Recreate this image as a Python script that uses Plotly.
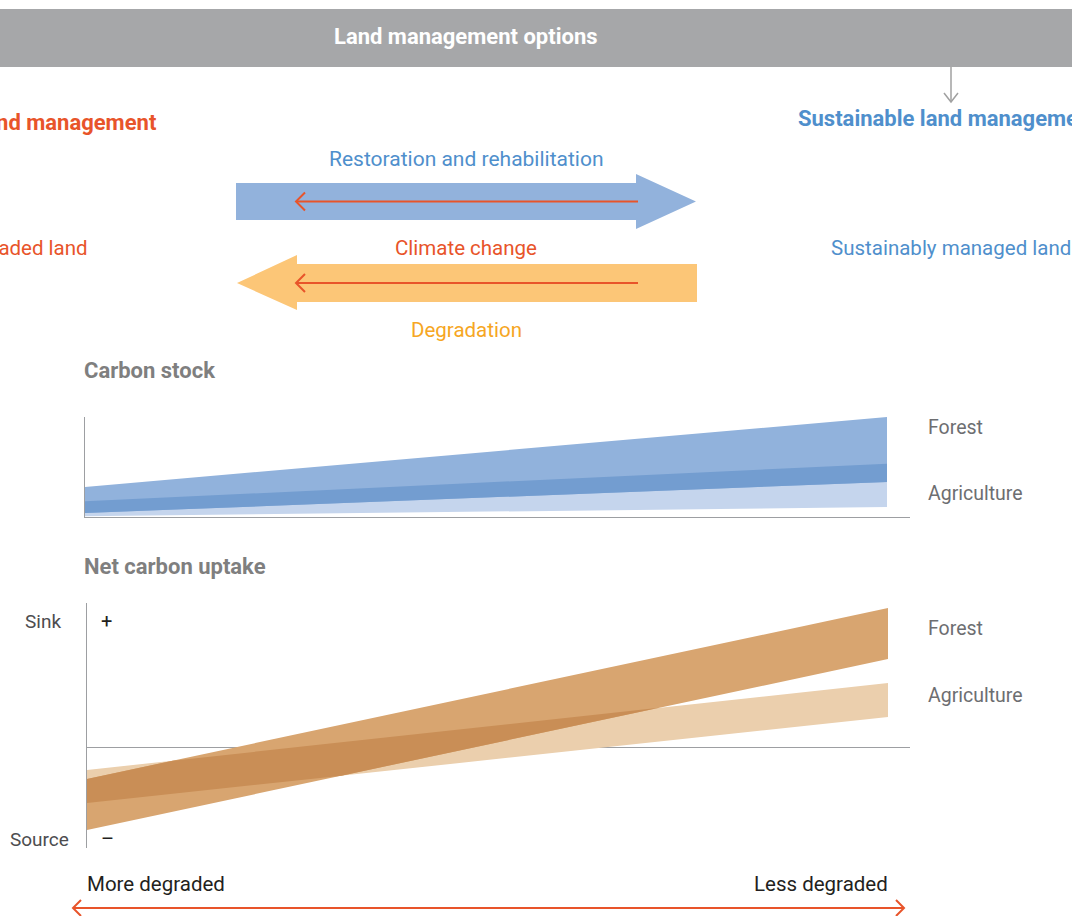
import numpy as np
import plotly.graph_objects as go

W, H = 1072, 916

# ---------------- data ----------------
x_pos = [0, 1]  # 0 = more degraded, 1 = less degraded
x_labels = ["More degraded", "Less degraded"]

# Carbon stock (arbitrary units, 0 = axis)
stock_forest_top = [30.0, 100.0]
stock_forest_bottom = [4.0, 35.0]
stock_agri_top = [15.7, 53.3]
stock_agri_bottom = [0.7, 10.0]

# Net carbon uptake (arbitrary units, 0 = neutral, + sink, - source)
uptake_forest_top = [-3.15, 13.95]
uptake_forest_bottom = [-8.25, 8.85]
uptake_agri_top = [-2.25, 6.45]
uptake_agri_bottom = [-5.55, 3.05]

series_labels = ["Forest", "Agriculture"]

# ---------------- helpers ----------------
def px(x):
    return x / W

def py(y):
    return 1 - y / H

FONT = "Roboto"
RED = "#E8542A"
BLUE = "#4F8FCC"
ORANGE = "#F6A623"
GRAY_T = "#7F7F7F"
LAB = "#6D6E71"
AXIS = "#9D9FA2"


def line_at(xs, ys, x):
    return ys[0] + (ys[1] - ys[0]) * (x - xs[0]) / (xs[1] - xs[0])


def overlap_polygon(xs, a_top, a_bot, b_top, b_bot):
    lines = [a_top, a_bot, b_top, b_bot]
    cand = {xs[0], xs[1]}
    for i in range(4):
        for j in range(i + 1, 4):
            s1 = lines[i][1] - lines[i][0]
            s2 = lines[j][1] - lines[j][0]
            if s1 != s2:
                t = (lines[j][0] - lines[i][0]) / (s1 - s2)
                xc = xs[0] + t * (xs[1] - xs[0])
                if xs[0] <= xc <= xs[1]:
                    cand.add(xc)
    cand = sorted(cand)
    up, lo, xx = [], [], []
    for x in cand:
        u = min(line_at(xs, a_top, x), line_at(xs, b_top, x))
        l = max(line_at(xs, a_bot, x), line_at(xs, b_bot, x))
        if u >= l - 1e-9:
            xx.append(x); up.append(u); lo.append(l)
    return xx + xx[::-1], up + lo[::-1]


def band(xs, top, bot, color, xa, ya):
    return go.Scatter(x=list(xs) + list(xs)[::-1], y=list(top) + list(bot)[::-1],
                      fill="toself", fillcolor=color, mode="lines",
                      line=dict(width=0, color=color), hoverinfo="skip",
                      showlegend=False, xaxis=xa, yaxis=ya)


fig = go.Figure()

# Carbon stock bands
fig.add_trace(band(x_pos, stock_agri_top, stock_agri_bottom, "#C5D5ED", "x", "y"))
fig.add_trace(band(x_pos, stock_forest_top, stock_forest_bottom, "#91B2DC", "x", "y"))
ox, oy = overlap_polygon(x_pos, stock_forest_top, stock_forest_bottom, stock_agri_top, stock_agri_bottom)
fig.add_trace(go.Scatter(x=ox, y=oy, fill="toself", fillcolor="#739DD0", mode="lines",
                         line=dict(width=0, color="#739DD0"), hoverinfo="skip",
                         showlegend=False, xaxis="x", yaxis="y"))

# Net carbon uptake bands
fig.add_trace(band(x_pos, uptake_agri_top, uptake_agri_bottom, "#EBCFAD", "x2", "y2"))
fig.add_trace(band(x_pos, uptake_forest_top, uptake_forest_bottom, "#D8A570", "x2", "y2"))
ox, oy = overlap_polygon(x_pos, uptake_forest_top, uptake_forest_bottom, uptake_agri_top, uptake_agri_bottom)
fig.add_trace(go.Scatter(x=ox, y=oy, fill="toself", fillcolor="#C98E56", mode="lines",
                         line=dict(width=0, color="#C98E56"), hoverinfo="skip",
                         showlegend=False, xaxis="x2", yaxis="y2"))

fig.update_layout(
    width=W, height=H, margin=dict(l=0, r=0, t=0, b=0),
    paper_bgcolor="white", plot_bgcolor="rgba(0,0,0,0)",
    showlegend=False,
    xaxis=dict(domain=[px(85), px(910)], range=[0, (910 - 85) / (887 - 85)],
               showgrid=False, zeroline=False, showticklabels=False, ticks="",
               showline=True, linecolor=AXIS, linewidth=1.2, fixedrange=True),
    yaxis=dict(domain=[py(517), py(417)], range=[0, 100],
               showgrid=False, zeroline=False, showticklabels=False, ticks="",
               showline=True, linecolor=AXIS, linewidth=1.2, fixedrange=True),
    xaxis2=dict(domain=[px(87), px(910)], range=[0, (910 - 87) / (888 - 87)], anchor="y2",
                showgrid=False, zeroline=False, showticklabels=False, ticks="",
                showline=False, fixedrange=True),
    yaxis2=dict(domain=[py(848), py(603)], range=[(747.5 - 848) / 10, (747.5 - 603) / 10], anchor="x2",
                showgrid=False, zeroline=True, zerolinecolor=AXIS, zerolinewidth=1.2,
                showticklabels=False, ticks="",
                showline=True, linecolor=AXIS, linewidth=1.2, fixedrange=True),
)

shapes = []
# header bar
shapes.append(dict(type="rect", xref="paper", yref="paper", x0=px(0), x1=px(1072), y0=py(67), y1=py(9),
                   fillcolor="#A6A7A9", line=dict(width=0), layer="below"))


def path(points, close=True):
    s = "M " + " L ".join(f"{px(a):.5f},{py(b):.5f}" for a, b in points)
    return s + (" Z" if close else "")

# blue arrow (to the right)
shapes.append(dict(type="path", xref="paper", yref="paper",
                   path=path([(236, 183), (636, 183), (636, 174), (696, 201.5), (636, 229), (636, 220), (236, 220)]),
                   fillcolor="#92B2DC", line=dict(width=0)))
# orange arrow (to the left)
shapes.append(dict(type="path", xref="paper", yref="paper",
                   path=path([(697, 264), (297, 264), (297, 255), (237, 283), (297, 310), (297, 302), (697, 302)]),
                   fillcolor="#FCC677", line=dict(width=0)))
# red climate change arrows
for yy in (201.5, 283):
    shapes.append(dict(type="line", xref="paper", yref="paper", x0=px(296), x1=px(638), y0=py(yy), y1=py(yy),
                       line=dict(color=RED, width=2)))
    shapes.append(dict(type="path", xref="paper", yref="paper",
                       path=path([(305, yy - 9), (296, yy), (305, yy + 9)], close=False),
                       line=dict(color=RED, width=2)))
# gray down arrow
shapes.append(dict(type="line", xref="paper", yref="paper", x0=px(951), x1=px(951), y0=py(67), y1=py(102),
                   line=dict(color="#A0A0A0", width=1.5)))
shapes.append(dict(type="path", xref="paper", yref="paper",
                   path=path([(944, 93), (951, 102), (958, 93)], close=False),
                   line=dict(color="#A0A0A0", width=1.5)))
# bottom double arrow
shapes.append(dict(type="line", xref="paper", yref="paper", x0=px(73), x1=px(904), y0=py(908), y1=py(908),
                   line=dict(color=RED, width=2)))
shapes.append(dict(type="path", xref="paper", yref="paper",
                   path=path([(81, 900), (73, 908), (81, 916)], close=False), line=dict(color=RED, width=2)))
shapes.append(dict(type="path", xref="paper", yref="paper",
                   path=path([(896, 900), (904, 908), (896, 916)], close=False), line=dict(color=RED, width=2)))
fig.update_layout(shapes=shapes)

ann = []


def text(t, x, y, color, size=20, bold=False, anchor="left"):
    pad = {"left": -3, "right": 3, "center": 0}[anchor]
    ann.append(dict(text=f"<b>{t}</b>" if bold else t, x=px(x + pad), y=py(y), xref="paper", yref="paper",
                    xanchor=anchor, yanchor="middle", showarrow=False,
                    font=dict(family=FONT, size=size, color=color)))

text("Land management options", 466, 37, "white", 22, True, "center")
text("Unsustainable land management", 156, 122, RED, 22, True, "right")
text("Sustainable land management", 799, 118, BLUE, 22, True, "left")
text("Restoration and rehabilitation", 466, 159, BLUE, 21, False, "center")
text("Degraded land", 87, 248, RED, 20.5, False, "right")
text("Climate change", 466, 248, RED, 20.5, False, "center")
text("Sustainably managed land", 1070, 248, BLUE, 20.5, False, "right")
text("Degradation", 466, 330, ORANGE, 20.5, False, "center")
text("Carbon stock", 85, 370, GRAY_T, 22, True, "left")
text(series_labels[0], 929, 427, LAB, 19.5)
text(series_labels[1], 929, 493, LAB, 19.5)
text("Net carbon uptake", 85, 566, GRAY_T, 22, True, "left")
text(series_labels[0], 929, 628, LAB, 19.5)
text(series_labels[1], 929, 695, LAB, 19.5)
text("Sink", 60, 621, "#4D4D4F", 19, False, "right")
text("+", 102, 621, "#231F20", 20, False, "left")
text("Source", 68, 839, "#4D4D4F", 19, False, "right")
text("\u2013", 102, 839, "#231F20", 20, False, "left")
text(x_labels[0], 88, 884, "#231F20", 20.5, False, "left")
text(x_labels[1], 887, 884, "#231F20", 20.5, False, "right")
fig.update_layout(annotations=ann)

fig.write_html("out.html", config={"displayModeBar": False},
               post_script="document.body.style.margin='0';document.body.style.overflow='hidden';")
